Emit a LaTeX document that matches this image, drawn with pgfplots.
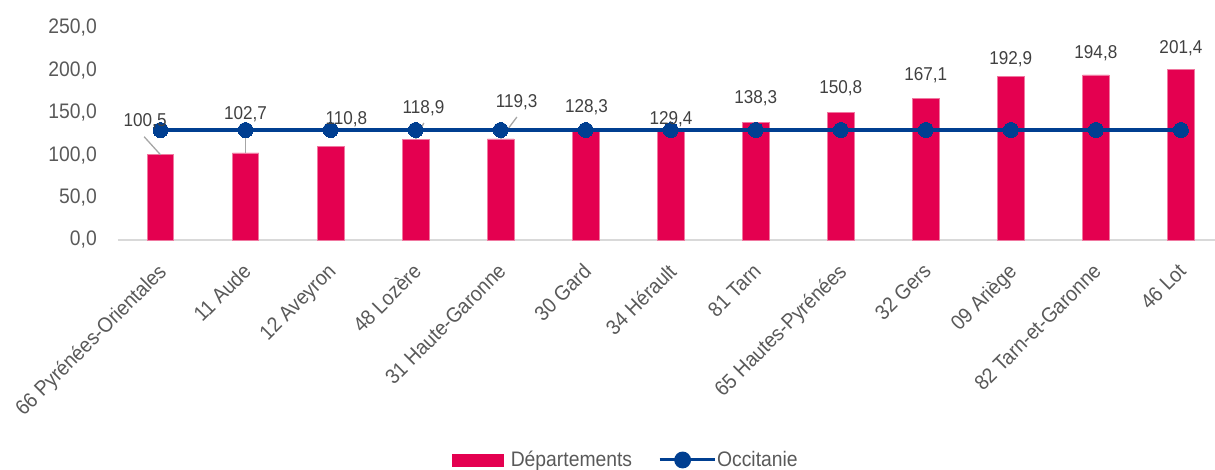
\documentclass[border=0pt]{standalone}
\usepackage{fontspec}
\setmainfont{Liberation Sans}[FakeStretch=0.92]
\usepackage{pgfplots}
\usepackage{pgfplotstable}
\pgfplotsset{compat=1.18}
\definecolor{barcol}{RGB}{228,0,80}
\definecolor{baredge}{RGB}{240,120,160}
\definecolor{occ}{RGB}{0,63,145}
\definecolor{tickgray}{RGB}{89,89,89}
\definecolor{lblgray}{RGB}{64,64,64}
\definecolor{axgray}{RGB}{217,217,217}
\definecolor{leadgray}{RGB}{166,166,166}
\newcommand\tickfont{\fontsize{21pt}{24pt}\selectfont}
\newcommand\lblfont{\fontsize{18.6pt}{21pt}\selectfont}

\pgfplotstableread{
x y dx dy
0 100.5 -15.4 34
1 102.7 0 39
2 110.8 15.9 26.8
3 118.9 7.9 31
4 119.3 15.9 36.3
5 128.3 0.8 23.7
6 129.4 0.4 11.1
7 138.3 0 24.3
8 150.8 0 24
9 167.1 0 23.5
10 192.9 0 17.5
11 194.8 0 22
12 201.4 0 21
}\depdata

\pgfplotstableread{
x y
0 129.7
1 129.7
2 129.7
3 129.7
4 129.7
5 129.7
6 129.7
7 129.7
8 129.7
9 129.7
10 129.7
11 129.7
12 129.7
}\occdata

\begin{document}
\begin{tikzpicture}
\begin{axis}[
  at={(118pt,-240pt)}, anchor=south west,
  scale only axis,
  width=1096.9pt, height=212pt,
  xmin=-0.5, xmax=12.4,
  ymin=0, ymax=250,
  clip=false,
  axis x line*=bottom, axis y line*=left,
  x axis line style={-, draw=axgray, line width=1.5pt},
  y axis line style={draw=none},
  major tick length=0pt,
  xtick={0,...,12},
  xticklabels={66 Pyrénées-Orientales, 11 Aude, 12 Aveyron, 48 Lozère, 31 Haute-Garonne, 30 Gard, 34 Hérault, 81 Tarn, 65 Hautes-Pyrénées, 32 Gers, 09 Ariège, 82 Tarn-et-Garonne, 46 Lot},
  xticklabel style={xshift=-4pt, yshift=-22pt, rotate=45, anchor=north east, inner sep=0pt, font=\tickfont, text=tickgray},
  ytick={0,50,...,250},
  yticklabel style={anchor=east, inner sep=0pt, xshift=-21pt, font=\tickfont, text=tickgray,
    /pgf/number format/.cd, fixed, fixed zerofill, precision=1, use comma, assume math mode=true},
  legend style={at={(0.3042,-1.0377)}, anchor=west, draw=none, fill=none,
    font=\tickfont, text=tickgray, inner sep=0pt,
    nodes={inner sep=0pt},
    /tikz/column 1/.style={column sep=7pt},
    /tikz/column 2/.style={column sep=26pt},
    /tikz/column 3/.style={column sep=1pt}},
  legend columns=2,
  legend cell align=left,
]
\addplot[ybar, bar width=26.5pt, fill=barcol, draw=baredge, line width=0.6pt,
  legend image code/.code={\fill[barcol] (0pt,-6pt) rectangle (51.3pt,6pt);}]
  table[x=x, y=y] {\depdata};
\addlegendentry{Départements}

\draw[leadgray, line width=1.3pt] (axis cs:0,100.5) -- ([shift={(-16.4pt,18.1pt)}]axis cs:0,100.5);
\draw[leadgray, line width=1.3pt] (axis cs:1,102.7) -- ([shift={(0pt,24pt)}]axis cs:1,102.7);
\draw[leadgray, line width=1.3pt] (axis cs:3,118.9) -- ([shift={(8.2pt,16.2pt)}]axis cs:3,118.9);
\draw[leadgray, line width=1.3pt] (axis cs:4,119.3) -- ([shift={(16.2pt,21.8pt)}]axis cs:4,119.3);

\addplot[occ, line width=3.2pt, mark=*, mark size=7.5pt, mark options={solid, fill=occ, draw=occ, line width=0pt},
  legend image code/.code={\draw[occ, line width=3pt] (0pt,0pt) -- (55pt,0pt); \fill[occ] (23pt,0pt) circle (6.8pt);}]
  table[x=x, y=y] {\occdata};
\addlegendentry{Occitanie}

\addplot[draw=none, mark=none, forget plot,
  visualization depends on={\thisrow{dx} \as \lblDX},
  visualization depends on={\thisrow{dy} \as \lblDY},
  nodes near coords={\pgfmathprintnumber[fixed, fixed zerofill, precision=1, use comma, assume math mode=true]{\pgfplotspointmeta}},
  nodes near coords style={anchor=center, xshift=\lblDX pt, yshift=\lblDY pt, inner sep=0pt, font=\lblfont, text=lblgray}]
  table[x=x, y=y] {\depdata};
\end{axis}
\pgfresetboundingbox
\path[use as bounding box] (0pt,0pt) rectangle (1215pt,-470pt);
\end{tikzpicture}
\end{document}
